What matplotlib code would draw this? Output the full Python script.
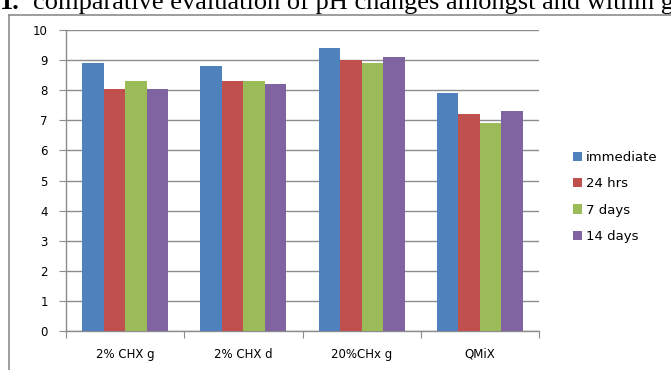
import matplotlib.pyplot as plt
from matplotlib.patches import Patch
from matplotlib.lines import Line2D
import numpy as np

# Datos de pH por grupo y por tiempo
grupos = ["2% CHX g", "2% CHX d", "20%CHx g", "QMiX"]
tiempos = ["immediate", "24 hrs", "7 days", "14 days"]
inmediato = [8.9, 8.8, 9.4, 7.9]
hrs_24 = [8.05, 8.3, 9.0, 7.2]
dias_7 = [8.3, 8.3, 8.9, 6.9]
dias_14 = [8.05, 8.2, 9.1, 7.3]
series = [inmediato, hrs_24, dias_7, dias_14]
colores = ["#4F81BD", "#C0504D", "#9BBB59", "#8064A2"]

gris = "#8C8C8C"

fig = plt.figure(figsize=(6.71, 3.70), dpi=100)
ax = fig.add_axes([66 / 671, 1 - 331 / 370, (539 - 66) / 671, (331 - 30) / 370])

# barras agrupadas, ancho de cada barra = 1/5.5 de la categoria
ancho = 1 / 5.5
x = np.arange(len(grupos))
for i, (valores, color) in enumerate(zip(series, colores)):
    ax.bar(x + (i - 1.5) * ancho, valores, width=ancho, color=color,
           label=tiempos[i], zorder=3)

ax.set_xlim(-0.5, len(grupos) - 0.5)
ax.set_ylim(0, 10)
ax.set_yticks(range(0, 11))
ax.grid(axis="y", color=gris, linewidth=1.0, zorder=0)

# marcas entre categorias, etiquetas centradas
ax.set_xticks(np.arange(-0.5, len(grupos), 1.0))
ax.set_xticklabels([])
ax.set_xticks(x, minor=True)
ax.set_xticklabels(grupos, minor=True)
ax.tick_params(axis="x", which="minor", length=0, pad=12, labelsize=8.5)
ax.tick_params(axis="x", which="major", length=5, color=gris, direction="out")
ax.tick_params(axis="y", length=5, color=gris, direction="out", pad=8, labelsize=8.5)

for lado in ["top", "right"]:
    ax.spines[lado].set_visible(False)
for lado in ["left", "bottom"]:
    ax.spines[lado].set_color(gris)
    ax.spines[lado].set_linewidth(1.0)

# leyenda a la derecha
handles = [Patch(facecolor=c, edgecolor="none") for c in colores]
fig.legend(handles, tiempos, loc="center left", bbox_to_anchor=(566 / 671, 1 - 197 / 370),
           frameon=False, fontsize=9.5, handlelength=0.7, handleheight=0.7,
           handletextpad=0.3, labelspacing=1.0, borderpad=0)

# marco del grafico recortado
fig.add_artist(Line2D([9 / 671, 1], [1 - 15 / 370, 1 - 15 / 370], color=gris, linewidth=1.2))
fig.add_artist(Line2D([9 / 671, 9 / 671], [0, 1 - 15 / 370], color=gris, linewidth=1.2))

# titulo cortado en la parte de arriba
fig.text(0.0, 1 - 9 / 370, "1.", fontsize=19, fontweight="bold",
         family="Liberation Serif", va="baseline", ha="left")
fig.text(33 / 671, 1 - 9 / 370, "comparative evaluation of pH changes amongst and within groups",
         fontsize=19, family="Liberation Serif", va="baseline", ha="left")

fig.savefig("out.png", dpi=100)
